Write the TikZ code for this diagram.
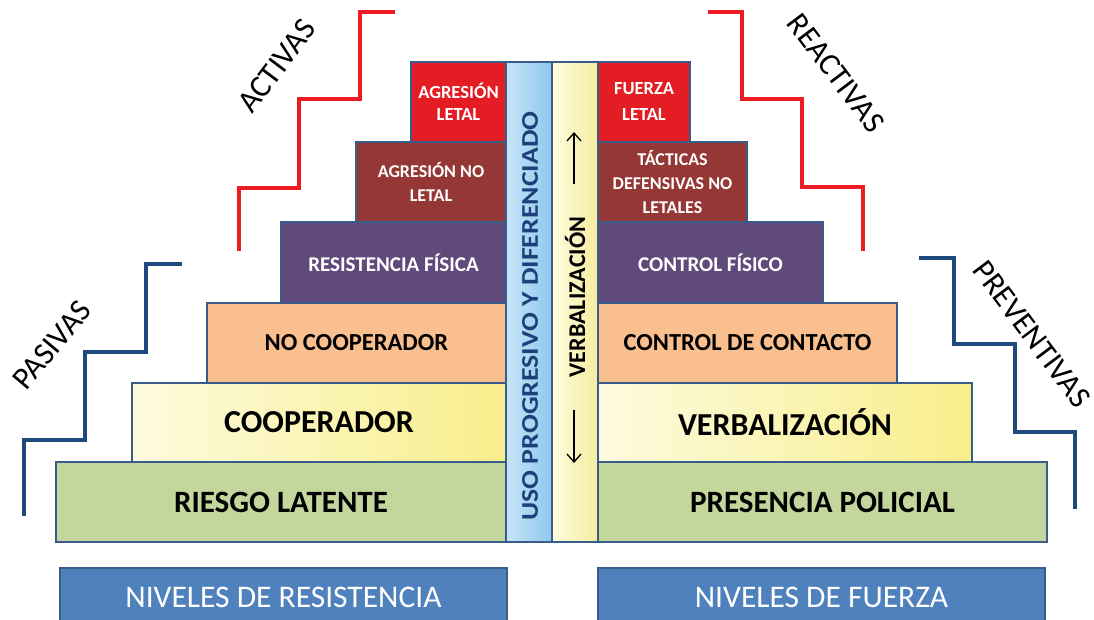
\documentclass[tikz,border=0pt]{standalone}
\usepackage{fontspec}
\setmainfont{Carlito}
\usetikzlibrary{arrows.meta}
\definecolor{boxline}{RGB}{56,93,138}
\definecolor{riskgreen}{RGB}{195,214,155}
\definecolor{coopyellowA}{RGB}{253,251,222}
\definecolor{coopyellowB}{RGB}{248,238,140}
\definecolor{peach}{RGB}{250,191,143}
\definecolor{violet}{RGB}{96,74,123}
\definecolor{darkred}{RGB}{149,55,53}
\definecolor{lethalred}{RGB}{228,28,36}
\definecolor{colblueA}{RGB}{200,228,248}
\definecolor{colblueB}{RGB}{140,200,238}
\definecolor{colyelA}{RGB}{255,252,222}
\definecolor{colyelB}{RGB}{246,236,160}
\definecolor{navytext}{RGB}{31,63,122}
\definecolor{niveles}{RGB}{79,129,189}
\definecolor{stairblue}{RGB}{31,73,125}
\definecolor{stairred}{RGB}{237,28,36}

\tikzset{
  level/.style={draw=boxline, line width=2.5pt, inner sep=0pt, align=center, font=\bfseries},
  stairline/.style={line width=3.5pt, line join=miter},
  sidelabel/.style={inner sep=0pt, font=\fontsize{31.5}{38}\selectfont},
  verbarrow/.style={line width=1.3pt, -{Straight Barb[length=8pt,width=14pt]}}
}

\begin{document}
\begin{tikzpicture}[x=1pt,y=-1pt]
  \clip (0,0) rectangle (1094,620);
  % niveles de resistencia
  \node[level, fill=riskgreen, minimum width=450, minimum height=80,
        font=\bfseries\fontsize{31}{37}\selectfont] (riesgo) at (281,502) {RIESGO LATENTE};
  \node[level, left color=coopyellowA, right color=coopyellowB, minimum width=374, minimum height=79,
        font=\bfseries\fontsize{32}{38}\selectfont] (coop) at (319,422.5) {COOPERADOR};
  \node[level, fill=peach, minimum width=299, minimum height=80,
        font=\bfseries\fontsize{24.5}{29}\selectfont] (nocoop) at (356.5,343) {NO COOPERADOR};
  \node[level, fill=violet, text=white, minimum width=225, minimum height=81,
        font=\bfseries\fontsize{21}{25}\selectfont] (resfis) at (393.5,262.5) {RESISTENCIA FÍSICA};
  \node[level, fill=darkred, text=white, minimum width=150, minimum height=80,
        font=\bfseries\fontsize{18}{24}\selectfont] (agrnl) at (431,182) {AGRESIÓN NO\\LETAL};
  \node[level, fill=lethalred, text=white, minimum width=95, minimum height=80,
        font=\bfseries\fontsize{18.5}{22}\selectfont] (agrl) at (458.5,102) {AGRESIÓN\\LETAL};
  % niveles de fuerza
  \node[level, fill=riskgreen, minimum width=449, minimum height=80,
        font=\bfseries\fontsize{31}{37}\selectfont] (presencia) at (822.5,502) {PRESENCIA POLICIAL};
  \node[level, left color=coopyellowA, right color=coopyellowB, minimum width=374, minimum height=79,
        font=\bfseries\fontsize{32}{38}\selectfont] (verbal) at (785,422.5) {VERBALIZACIÓN};
  \node[level, fill=peach, minimum width=299, minimum height=80,
        font=\bfseries\fontsize{24.5}{29}\selectfont] (contacto) at (747.5,343) {CONTROL DE CONTACTO};
  \node[level, fill=violet, text=white, minimum width=225, minimum height=81,
        font=\bfseries\fontsize{21}{25}\selectfont] (ctrlfis) at (710.5,262.5) {CONTROL FÍSICO};
  \node[level, fill=darkred, text=white, minimum width=149, minimum height=80,
        font=\bfseries\fontsize{18}{24}\selectfont] (tacticas) at (672.5,182) {TÁCTICAS\\DEFENSIVAS NO\\LETALES};
  \node[level, fill=lethalred, text=white, minimum width=92, minimum height=80,
        font=\bfseries\fontsize{18.5}{26}\selectfont] (fuerza) at (644,102) {FUERZA\\LETAL};
  % columnas centrales
  \node[level, left color=colblueA, right color=colblueB, minimum width=46, minimum height=480] (usocol) at (529,302) {};
  \node[level, left color=colyelA, right color=colyelB, minimum width=46, minimum height=480] (verbcol) at (575,302) {};
  \node[inner sep=0pt, rotate=90, xscale=1.16, text=navytext,
        font=\bfseries\fontsize{24}{28}\selectfont] (uso) at (530,316) {USO PROGRESIVO Y DIFERENCIADO};
  \node[inner sep=0pt, rotate=90, font=\bfseries\fontsize{24}{28}\selectfont] (verbtxt) at (575,297) {VERBALIZACIÓN};
  \coordinate (up1) at (574,184);
  \coordinate (up2) at (574,132);
  \coordinate (dn1) at (574,410);
  \coordinate (dn2) at (574,463);
  \draw[verbarrow] (up1) -- (up2);
  \draw[verbarrow] (dn1) -- (dn2);
  % escaleras
  \draw[stairline, stairblue] (24,516) |- (85,440) |- (146,352) |- (182,264);
  \draw[stairline, stairred] (239,251) |- (299,188) |- (360,99) |- (395,12);
  \draw[stairline, stairred] (708,12) -| (742,99) -| (802,187) -| (863,251);
  \draw[stairline, stairblue] (919,258) -| (954,344) -| (1015,432) -| (1075,509);
  \node[sidelabel, rotate=50] (pasivas) at (52,345) {PASIVAS};
  \node[sidelabel, rotate=53] (activas) at (277,66) {ACTIVAS};
  \node[sidelabel, rotate=-53] (reactivas) at (836,73) {REACTIVAS};
  \node[sidelabel, rotate=-53] (preventivas) at (1032,334) {PREVENTIVAS};
  % rotulos inferiores
  \node[draw=boxline, line width=1.5pt, fill=niveles, text=white, inner sep=0pt,
        minimum width=447, minimum height=58, font=\fontsize{31.5}{37}\selectfont] (nivres) at (283.5,597) {NIVELES DE RESISTENCIA};
  \node[draw=boxline, line width=1.5pt, fill=niveles, text=white, inner sep=0pt,
        minimum width=447, minimum height=58, font=\fontsize{31.5}{37}\selectfont] (nivfue) at (821.5,597) {NIVELES DE FUERZA};
\end{tikzpicture}
\end{document}
